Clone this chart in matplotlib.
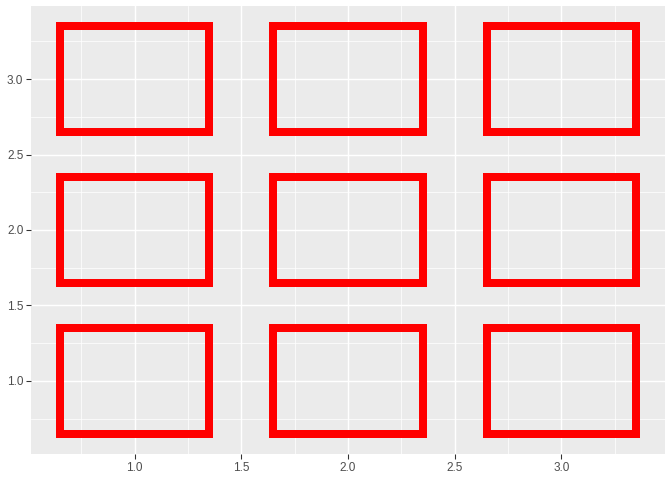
import matplotlib
matplotlib.use("Agg")
import matplotlib.pyplot as plt
from matplotlib.patches import Rectangle
from matplotlib.ticker import MultipleLocator

plt.rcParams['font.family'] = ['Liberation Sans', 'DejaVu Sans']

# tile centres and size
x_centres = [1, 2, 3, 1, 2, 3, 1, 2, 3]
y_centres = [1, 1, 1, 2, 2, 2, 3, 3, 3]
tile_w = 0.7
tile_h = 0.7

fig = plt.figure(figsize=(7, 5), dpi=96)
ax = fig.add_axes([31 / 672, 26 / 480, (665 - 31) / 672, (454 - 6) / 480])
ax.set_facecolor('#EBEBEB')

for xc, yc in zip(x_centres, y_centres):
    ax.add_patch(Rectangle((xc - tile_w / 2, yc - tile_h / 2), tile_w, tile_h,
                           fill=False, edgecolor='red', linewidth=6,
                           joinstyle='miter', zorder=3))

# ggplot default expansion: 5% of the data range
lo = min(x_centres) - tile_w / 2
hi = max(x_centres) + tile_w / 2
pad = 0.05 * (hi - lo)
ax.set_xlim(lo - pad, hi + pad)
lo = min(y_centres) - tile_h / 2
hi = max(y_centres) + tile_h / 2
pad = 0.05 * (hi - lo)
ax.set_ylim(lo - pad, hi + pad)

for axis in (ax.xaxis, ax.yaxis):
    axis.set_major_locator(MultipleLocator(0.5))
    axis.set_minor_locator(MultipleLocator(0.25))
    axis.set_major_formatter(plt.FormatStrFormatter('%.1f'))

ax.grid(which='major', color='white', linewidth=1.1)
ax.grid(which='minor', color='white', linewidth=0.55)
ax.set_axisbelow(True)
ax.tick_params(which='major', length=3.7, width=0.8, color='#333333',
               labelcolor='#4D4D4D', labelsize=8.8, pad=2)
ax.tick_params(which='minor', length=0)
for s in ax.spines.values():
    s.set_visible(False)

fig.savefig('out.png', dpi=96)
